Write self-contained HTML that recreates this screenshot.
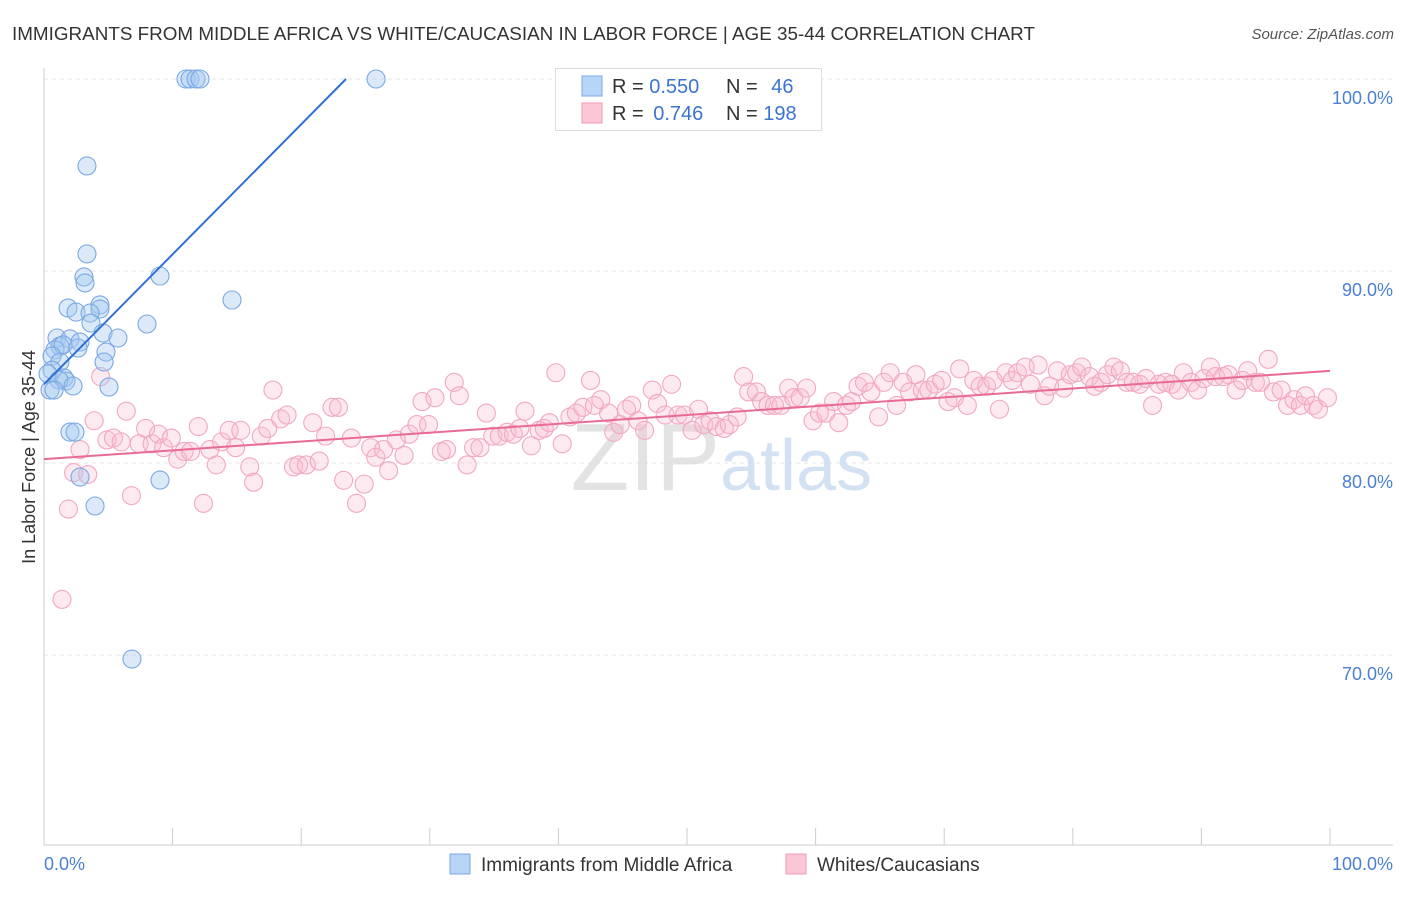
<!DOCTYPE html>
<html><head><meta charset="utf-8"><style>
body{margin:0;background:#fff;font-family:"Liberation Sans",sans-serif;}
svg text{font-family:"Liberation Sans",sans-serif;}
</style></head><body>
<svg id="chart" width="1406" height="892" xmlns="http://www.w3.org/2000/svg">
<text x="12" y="40" font-size="18.85" fill="#333">IMMIGRANTS FROM MIDDLE AFRICA VS WHITE/CAUCASIAN IN LABOR FORCE | AGE 35-44 CORRELATION CHART</text>
<text x="1394" y="39" font-size="15" fill="#555" font-style="italic" text-anchor="end">Source: ZipAtlas.com</text>
<g id="grid"></g>
<text x="720" y="490" font-size="96" fill="#ddd" font-family="Liberation Serif" text-anchor="end" opacity="0.8">ZIP</text>
<text x="720" y="490" font-size="72" fill="#c8dcf0" opacity="0.8">atlas</text>
<g id="marks"></g>
<text x="35" y="457" font-size="18" fill="#333" text-anchor="middle" transform="rotate(-90 35 457)">In Labor Force | Age 35-44</text>
<text x="44" y="870" font-size="18" fill="#4a7fd4">0.0%</text>
<text x="1393" y="870" font-size="18" fill="#4a7fd4" text-anchor="end">100.0%</text>
<g>
<rect x="450" y="854" width="20" height="20" fill="#b8d4f6" stroke="#7aaae8"/>
<text x="481" y="871" font-size="19" fill="#333">Immigrants from Middle Africa</text>
<rect x="786" y="854" width="20" height="20" fill="#fbc6d6" stroke="#f09ab5"/>
<text x="817" y="871" font-size="19" fill="#333">Whites/Caucasians</text>
</g>
<g>
<rect x="555.5" y="68.5" width="266" height="62" fill="#fff" stroke="#ddd"/>
<rect x="582" y="76" width="20" height="20" fill="#b8d4f6" stroke="#7aaae8"/>
<text x="612" y="93" font-size="20" fill="#333">R = <tspan fill="#3b74d0">0.550</tspan></text>
<text x="726" y="93" font-size="20" fill="#333">N = <tspan fill="#3b74d0" dx="8">46</tspan></text>
<rect x="582" y="103" width="20" height="20" fill="#fbc6d6" stroke="#f09ab5"/>
<text x="612" y="120" font-size="20" fill="#333">R = <tspan fill="#3b74d0" dx="4">0.746</tspan></text>
<text x="726" y="120" font-size="20" fill="#333">N = <tspan fill="#3b74d0">198</tspan></text>
</g>
</svg>
<script>
const yTicks=[100,90,80,70];
const yTickLabels=["100.0%","90.0%","80.0%","70.0%"];
const xTicks=[0,10,20,30,40,50,60,70,80,90,100];
const blueX=[11.04,11.35,11.82,12.13,25.82,3.34,3.34,3.11,3.19,9.02,14.62,1.87,2.49,4.35,4.35,3.58,3.65,8.01,4.59,5.75,1.01,2.02,2.80,1.24,0.86,1.48,2.64,4.82,0.62,1.24,4.67,0.62,0.31,1.56,1.71,1.17,2.26,5.05,0.47,0.78,2.02,2.41,9.02,2.80,3.97,6.84];
const blueY=[100,100,100,100,100,95.47,90.89,89.69,89.38,89.74,88.49,88.07,87.86,88.23,88.02,87.81,87.29,87.24,86.77,86.51,86.51,86.46,86.30,86.09,85.89,86.15,85.99,85.78,85.57,85.26,85.26,84.84,84.64,84.43,84.27,84.32,84.01,83.96,83.80,83.80,81.61,81.61,79.11,79.27,77.76,69.79];
const pinkX=[1.4,1.9,2.3,3.4,2.8,3.9,4.4,4.9,5.4,6.0,6.4,6.8,7.4,7.9,8.4,8.9,9.3,9.9,10.4,10.9,11.4,12.0,12.4,12.9,13.4,13.8,14.4,14.9,15.3,16.0,16.3,16.9,17.4,17.8,18.4,18.9,19.4,19.8,20.4,20.9,21.4,21.9,22.4,22.9,23.3,23.9,24.3,24.9,25.4,25.8,26.4,26.8,27.4,28.0,28.4,29.0,29.4,29.9,30.4,30.9,31.3,31.9,32.3,32.9,33.4,33.9,34.4,34.9,35.4,36.0,36.5,37.0,37.4,37.9,38.5,38.9,39.3,39.8,40.3,40.9,41.4,41.9,42.5,42.8,43.3,43.9,44.3,44.8,45.3,45.7,46.2,46.7,47.3,47.7,48.3,48.8,49.3,49.8,50.4,50.9,51.3,51.8,52.3,52.9,53.3,53.9,54.4,54.8,55.4,55.8,56.3,56.8,57.3,57.9,58.3,58.8,59.3,59.8,60.3,60.8,61.4,61.8,62.4,62.8,63.3,63.8,64.3,64.9,65.3,65.8,66.3,66.8,67.3,67.8,68.3,68.8,69.3,69.8,70.3,70.8,71.2,71.8,72.3,72.8,73.3,73.8,74.3,74.8,75.3,75.7,76.3,76.7,77.3,77.8,78.2,78.8,79.3,79.8,80.3,80.7,81.3,81.7,82.2,82.7,83.2,83.7,84.2,84.7,85.2,85.7,86.2,86.7,87.2,87.7,88.2,88.6,89.2,89.7,90.2,90.7,91.1,91.7,92.1,92.7,93.2,93.6,94.2,94.6,95.2,95.6,96.2,96.7,97.2,97.7,98.1,98.7,99.1,99.8];
const pinkY=[72.9,77.6,79.5,79.4,80.7,82.2,84.5,81.2,81.3,81.1,82.7,78.3,81.0,81.8,81.0,81.5,80.8,81.3,80.2,80.6,80.6,81.9,77.9,80.7,79.9,81.1,81.7,80.8,81.7,79.8,79.0,81.4,81.8,83.8,82.3,82.5,79.8,79.9,79.9,82.1,80.1,81.4,82.9,82.9,79.1,81.3,77.9,78.9,80.8,80.3,80.7,79.6,81.2,80.4,81.5,82.0,83.2,82.0,83.4,80.6,80.7,84.2,83.5,79.9,80.8,80.8,82.6,81.4,81.4,81.6,81.5,81.8,82.7,80.9,81.7,81.8,82.1,84.7,81.0,82.4,82.6,82.9,84.3,83.0,83.3,82.6,81.6,82.0,82.8,83.0,82.2,81.7,83.8,83.1,82.5,84.1,82.5,82.5,81.7,82.8,82.0,82.2,81.9,81.8,82.0,82.4,84.5,83.7,83.7,83.2,83.0,83.0,83.0,83.9,83.4,83.4,83.9,82.2,82.6,82.6,83.2,82.1,83.0,83.2,84.0,84.2,83.7,82.4,84.2,84.7,83.0,84.2,83.7,84.6,83.8,83.8,84.1,84.3,83.2,83.4,84.9,83.0,84.3,84.0,84.0,84.3,82.8,84.7,84.3,84.7,85.0,84.1,85.1,83.5,84.0,84.8,83.9,84.6,84.7,85.0,84.5,84.0,84.2,84.6,85.0,84.8,84.2,84.2,84.1,84.4,83.0,84.1,84.2,84.1,83.8,84.7,84.2,83.8,84.4,85.0,84.5,84.5,84.6,83.8,84.3,84.8,84.2,84.2,85.4,83.7,83.8,83.0,83.3,83.0,83.5,83.0,82.8,83.4];
const blueTrend=[84.1,0.677]; // intercept, slope
const pinkTrend=[80.2,0.046];
const X0=44,X1=1330,Ytop=79,pxPer10=192;
const sx=v=>X0+(X1-X0)*v/100;
const sy=v=>Ytop+(100-v)*pxPer10/10;
const NS="http://www.w3.org/2000/svg";
const grid=document.getElementById('grid'),marks=document.getElementById('marks'),svg=document.getElementById('chart');
function mk(tag,attrs,parent){const e=document.createElementNS(NS,tag);for(const k in attrs)e.setAttribute(k,attrs[k]);parent.appendChild(e);return e;}
yTicks.forEach((t,i)=>{
  const l=mk('line',{x1:44,x2:1393,y1:sy(t),y2:sy(t),stroke:'#e4e4e4','stroke-dasharray':'4 4'},grid);
  
  
  const tx=mk('text',{x:1393,y:sy(t)+25,'font-size':18,fill:'#4a7fd4','text-anchor':'end'},svg);
  tx.textContent=yTickLabels[i];
  
  
});
const ax=mk('line',{x1:44,x2:44,y1:68,y2:845,stroke:'#ccc'},grid);


const bx=mk('line',{x1:44,x2:1393,y1:845,y2:845,stroke:'#ccc'},grid);


xTicks.forEach(t=>{
  const l=mk('line',{x1:sx(t),x2:sx(t),y1:828,y2:845,stroke:'#ccc'},grid);
  
  
});
pinkX.forEach((x,i)=>{
  const c=mk('circle',{cx:sx(x),cy:sy(pinkY[i]),r:9,fill:'rgba(248,185,205,0.3)',stroke:'#f2a8c0','stroke-width':1.1},marks);
  
  
});
blueX.forEach((x,i)=>{
  const c=mk('circle',{cx:sx(x),cy:sy(blueY[i]),r:9,fill:'rgba(165,200,240,0.4)',stroke:'#7aa8e4','stroke-width':1.1},marks);
  
  
});
const bEnd=(100-blueTrend[0])/blueTrend[1];
const tb=mk('line',{x1:sx(0),y1:sy(blueTrend[0]),x2:sx(bEnd),y2:sy(100),stroke:'#2f6fd6','stroke-width':2},marks);


const tp=mk('line',{x1:sx(0),y1:sy(pinkTrend[0]),x2:sx(100),y2:sy(pinkTrend[0]+100*pinkTrend[1]),stroke:'#e86a96','stroke-width':2},marks);


</script>
</body></html>
